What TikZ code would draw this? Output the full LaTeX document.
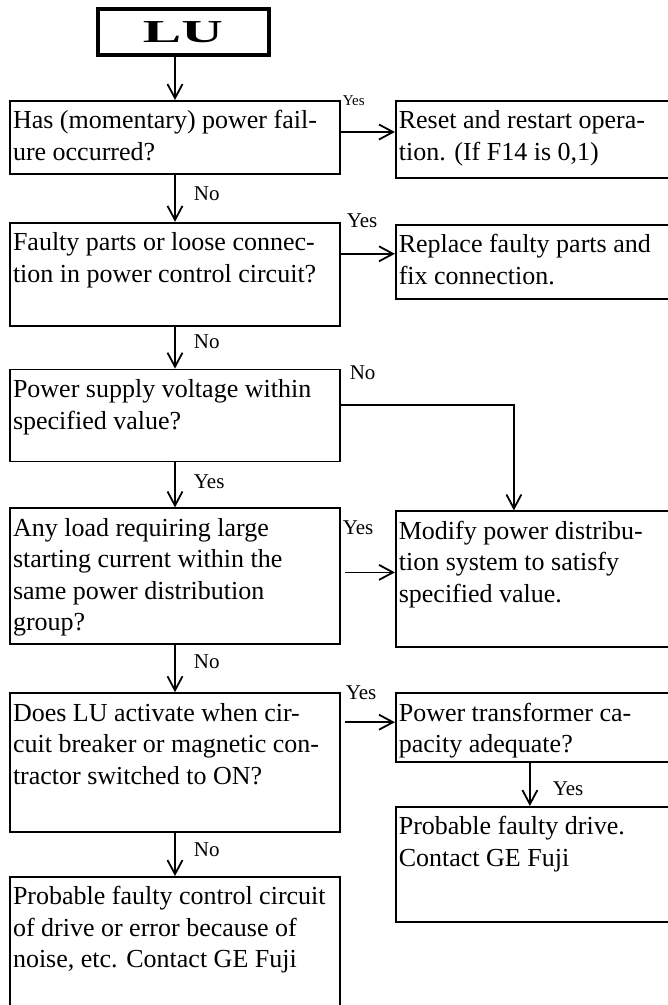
\documentclass[tikz,border=0pt]{standalone}
\usepackage{fontspec}
\setmainfont{Liberation Serif}
\usepackage{graphicx}
\usetikzlibrary{positioning, arrows.meta, calc}

\newcommand{\boxtext}[3]{\parbox[t][#2][t]{#1}{\strut #3}}

\begin{document}
\begin{tikzpicture}[
    x=1pt, y=1pt,
    node distance=43pt and 54pt,
    lbox/.style={rectangle, draw, line width=1.8pt, inner xsep=3pt, inner ysep=6pt, font=\fontsize{26}{31.5}\selectfont},
    rbox/.style={lbox},
    title/.style={rectangle, draw, line width=4pt, minimum width=171pt, minimum height=46pt, font=\fontsize{32}{36}\selectfont\bfseries},
    lab/.style={inner sep=0pt, font=\fontsize{21}{24}\selectfont},
    arrow/.style={-{Straight Barb[length=14pt, width=15pt, line width=1.8pt]}, line width=1.8pt}
]
    \useasboundingbox (0,0) rectangle (668,-1005);

    \node [title] (lu) at (183,-32) {\scalebox{1.8}[1]{LU}};

    % left column
    \node [lbox, anchor=north] (q1) at (175,-100) {\boxtext{324pt}{61pt}{Has (momentary) power fail-\\ure occurred?}};
    \node [lbox, below=47pt of q1] (q2) {\boxtext{324pt}{91pt}{Faulty parts or loose connec-\\tion in power control circuit?}};
    \node [lbox, below=42pt of q2] (q3) {\boxtext{324pt}{80pt}{Power supply voltage within\\specified value?}};
    \node [lbox, below=45pt of q3] (q4) {\boxtext{324pt}{124pt}{Any load requiring large\\starting current within the\\same power distribution\\group?}};
    \node [lbox, below=47pt of q4] (q5) {\boxtext{324pt}{127pt}{Does LU activate when cir-\\cuit breaker or magnetic con-\\tractor switched to ON?}};
    \node [lbox, below=43pt of q5] (q6) {\boxtext{324pt}{125pt}{Probable faulty control circuit\\of drive or error because of\\noise, etc. Contact GE Fuji}};

    % right column
    \node [rbox, anchor=north west] (r1) at ([xshift=54pt]q1.north east) {\boxtext{269pt}{65pt}{Reset and restart opera-\\tion. (If F14 is 0,1)}};
    \node [rbox, anchor=north west] (r2) at ([xshift=54pt, yshift=-2pt]q2.north east) {\boxtext{300pt}{62pt}{Replace faulty parts and\\fix connection.}};
    \node [rbox, anchor=north west] (r4) at ([xshift=54pt, yshift=-3pt]q4.north east) {\boxtext{300pt}{124pt}{Modify power distribu-\\tion system to satisfy\\specified value.}};
    \node [rbox, anchor=north west] (r5) at ([xshift=54pt]q5.north east) {\boxtext{300pt}{57pt}{Power transformer ca-\\pacity adequate?}};
    \node [rbox, below=43pt of r5.south west, anchor=north west] (r6) {\boxtext{300pt}{103pt}{Probable faulty drive.\\Contact GE Fuji}};

    \coordinate (a1) at ([yshift=-32pt]q1.north east);
    \coordinate (a2) at ([yshift=-32pt]q2.north east);
    \coordinate (a3) at ([yshift=-36pt]q3.north east);
    \coordinate (a4) at ([xshift=4pt, yshift=-65pt]q4.north east);
    \coordinate (a5) at ([xshift=4pt, yshift=-30pt]q5.north east);

    \draw [arrow] (lu.south -| q1.north) -- (q1.north);
    \draw [arrow] (q1) -- node [lab, right=18pt, pos=.4] (no1) {No} (q2);
    \draw [arrow] (q2) -- node [lab, right=18pt, pos=.35] (no2) {No} (q3);
    \draw [arrow] (q3) -- node [lab, right=18pt, pos=.42] (yes3) {Yes} (q4);
    \draw [arrow] (q4) -- node [lab, right=18pt, pos=.36] (no4) {No} (q5);
    \draw [arrow] (q5) -- node [lab, right=18pt, pos=.4] (no5) {No} (q6);

    \draw [arrow] (a1) -- node [lab, at start, anchor=south west, yshift=25pt, xshift=1pt, font=\fontsize{15}{18}\selectfont] (yes1) {Yes} (a1 -| r1.west);
    \draw [arrow] (a2) -- node [lab, at start, anchor=south west, yshift=25pt, xshift=5pt] (yes2) {Yes} (a2 -| r2.west);
    \draw [arrow] (a3) -| node [lab, at start, anchor=south west, yshift=24pt, xshift=8pt] (no3) {No} ([xshift=119pt]r4.north west);
    \draw [arrow] (a4) -- node [lab, at start, anchor=south west, yshift=37pt, xshift=-3pt] (yes4) {Yes} (a4 -| r4.west);
    \draw [arrow] (a5) -- node [lab, at start, anchor=south west, yshift=22pt, xshift=0pt] (yes5) {Yes} (a5 -| r5.west);
    \draw [arrow] ([xshift=135pt]r5.south west) -- node [lab, right=22pt, pos=.6] (yes6) {Yes} ([xshift=135pt]r6.north west);
\end{tikzpicture}
\end{document}
